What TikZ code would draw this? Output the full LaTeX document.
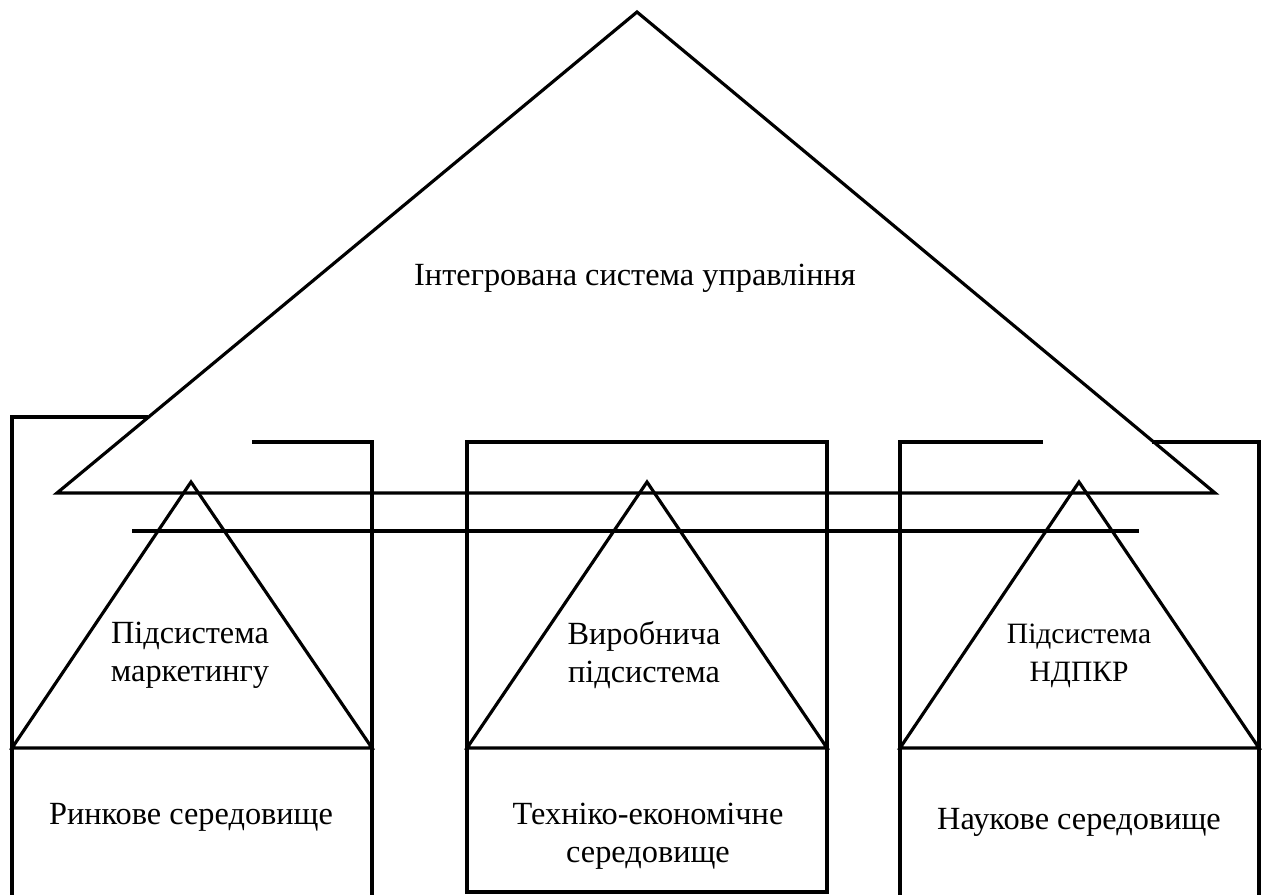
\documentclass[tikz,border=0pt]{standalone}
\usepackage{fontspec}
\setmainfont{Liberation Serif}
\begin{document}
\begin{tikzpicture}[x=0.02cm, y=-0.02cm, line width=1.8pt, line join=miter,
    label/.style={align=center, font=\fontsize{18.4}{21.5}\selectfont, inner sep=0pt},
    smalllabel/.style={align=center, font=\fontsize{16.8}{21.5}\selectfont, inner sep=0pt}]
    \useasboundingbox (0,0) rectangle (1262,895);
        \draw (148,417) -- (12,417) -- (12,897);
        \draw (252,442) -- (372,442) -- (372,897);
        \draw (467,442) rectangle (827,892);
        \draw (1043,442) -- (900,442) -- (900,897);
        \draw (1152,442) -- (1259,442) -- (1259,897);
        \draw (57,493) -- (637,12) -- (1215,493) -- cycle;
        \draw (132,531) -- (1139,531);
        \draw (12,748) -- (191,482) -- (372,748) -- cycle;
        \draw (467,748) -- (647,482) -- (827,748) -- cycle;
        \draw (900,748) -- (1079,482) -- (1259,748) -- cycle;
        \node[label] (intsys) at (635,278) {Інтегрована система управління};
        \node[label] (marksub) at (190,655) {Підсистема\\маркетингу};
        \node[label] (prodsub) at (644,655) {Виробнича\\підсистема};
        \node[smalllabel] (rdsub) at (1079,656) {Підсистема\\НДПКР};
        \node[label] (marketenv) at (191,817) {Ринкове середовище};
        \node[label] (techenv) at (648,836) {Техніко-економічне\\середовище};
        \node[label] (sciencenv) at (1079,822) {Наукове середовище};
    \end{tikzpicture}
\end{document}
